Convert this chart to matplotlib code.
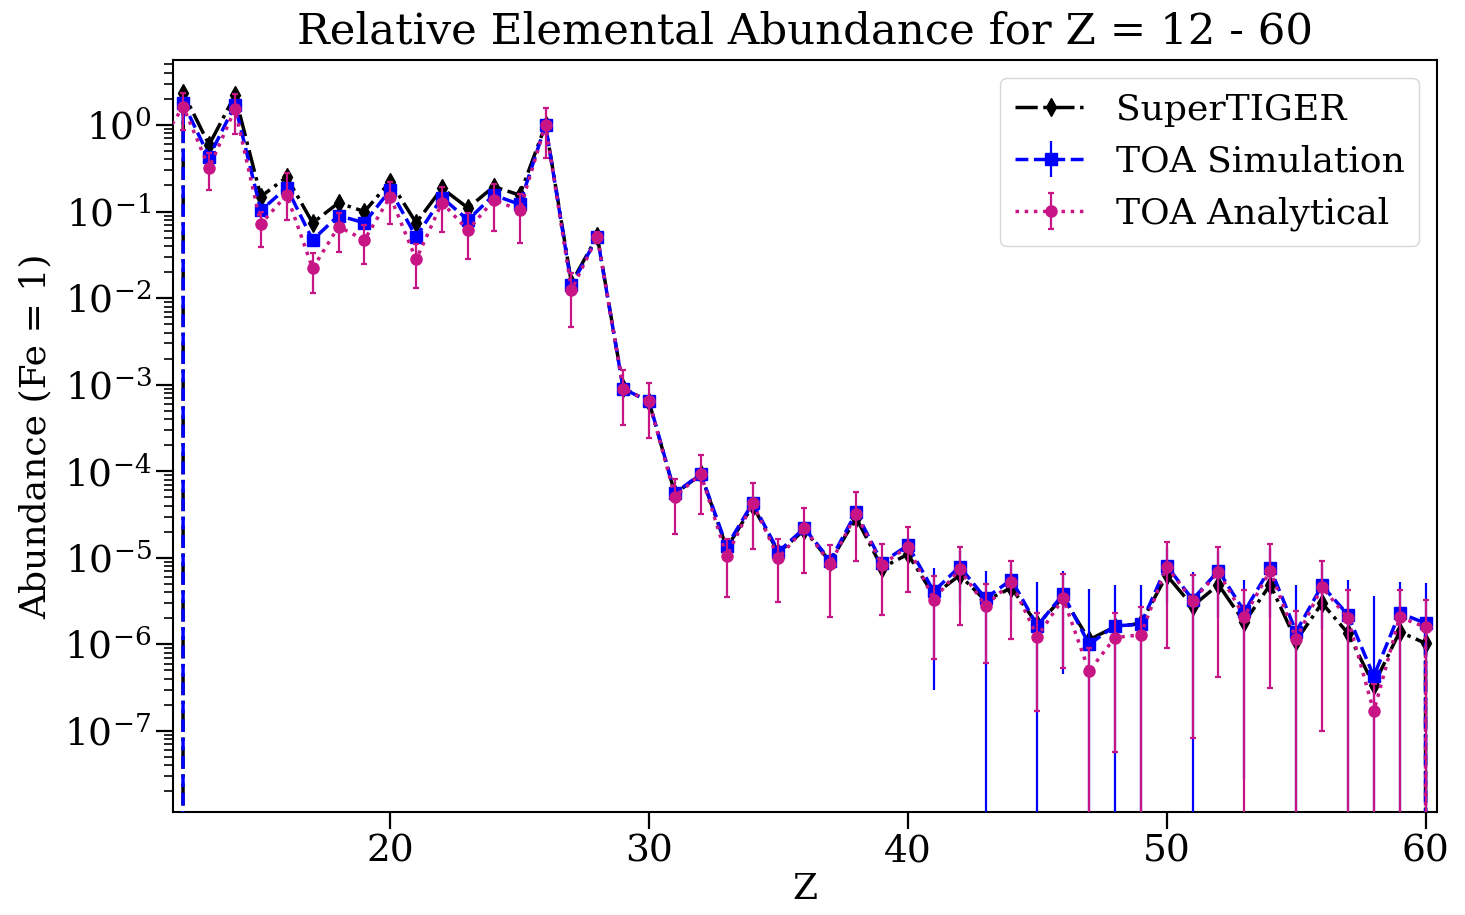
import numpy as np
import matplotlib
matplotlib.use("Agg")
import matplotlib.pyplot as plt
from matplotlib.ticker import LogLocator, NullFormatter, FixedLocator

plt.rcParams["font.family"] = ["DejaVu Serif"]
plt.rcParams["mathtext.fontset"] = "dejavuserif"

# Atomic number; the first and last entries close the curves off the plot
Z = list(range(11, 62))

supertiger = [0.0,
              2.35, 0.59, 2.2, 0.149, 0.25, 0.074, 0.126, 0.10, 0.222, 0.074,
              0.186, 0.11, 0.194, 0.155, 1.0, 0.015, 0.052, 9.2e-4, 6.3e-4, 5.5e-5,
              9.2e-5, 1.3e-5, 4.0e-5, 1.15e-5, 2.1e-5, 9.0e-6, 2.9e-5, 7.7e-6, 1.1e-5, 3.7e-6,
              6.3e-6, 3.2e-6, 4.5e-6, 1.7e-6, 3.5e-6, 1.13e-6, 1.6e-6, 1.75e-6, 6.3e-6, 2.77e-6,
              4.9e-6, 1.8e-6, 4.9e-6, 1.1e-6, 3.0e-6, 1.35e-6, 3.4e-7, 1.4e-6, 1.03e-6,
              0.0]

toa_sim = [0.0,
           1.81, 0.43, 1.70, 0.103, 0.189, 0.047, 0.090, 0.074, 0.178, 0.051,
           0.145, 0.080, 0.155, 0.121, 1.0, 0.0140, 0.051, 9.0e-4, 6.4e-4, 5.6e-5,
           9.3e-5, 1.36e-5, 4.3e-5, 1.18e-5, 2.2e-5, 9.3e-6, 3.35e-5, 8.8e-6, 1.4e-5, 4.1e-6,
           7.9e-6, 3.4e-6, 5.6e-6, 1.64e-6, 3.8e-6, 1.0e-6, 1.64e-6, 1.7e-6, 8.1e-6, 3.3e-6,
           7.1e-6, 2.4e-6, 7.6e-6, 1.4e-6, 4.8e-6, 2.2e-6, 4.3e-7, 2.3e-6, 1.76e-6,
           0.0]

nan = np.nan
# Simulation uncertainty band (lower / upper limits); nan where no bar is drawn
toa_sim_lo = [nan] * 30 + [
    3.0e-7, 3.0e-6, 0.0, 2.5e-6, 0.0, 4.6e-7, 0.0, 0.0, 0.0, 3.0e-6,
    0.0, 2.0e-6, 2.8e-8, 2.0e-6, 0.0, 1.5e-6, 0.0, 0.0, 0.0, 0.0] + [nan]
toa_sim_hi = [nan] * 30 + [
    7.6e-6, 1.2e-5, 7.1e-6, 8.5e-6, 5.3e-6, 7.1e-6, 4.4e-6, 4.9e-6, 4.9e-6, 1.3e-5,
    6.8e-6, 1.2e-5, 5.5e-6, 1.3e-5, 4.8e-6, 8.5e-6, 5.6e-6, 3.6e-6, 5.3e-6, 5.1e-6] + [nan]

toa_ana = [0.55,
           1.63, 0.32, 1.52, 0.072, 0.156, 0.022, 0.067, 0.047, 0.149, 0.028,
           0.127, 0.061, 0.136, 0.104, 1.0, 0.0124, 0.051, 9.0e-4, 6.4e-4, 5.1e-5,
           9.3e-5, 1.04e-5, 4.3e-5, 1.0e-5, 2.2e-5, 8.5e-6, 3.2e-5, 8.3e-6, 1.35e-5, 3.3e-6,
           7.4e-6, 2.8e-6, 5.2e-6, 1.23e-6, 3.4e-6, 4.9e-7, 1.2e-6, 1.29e-6, 7.9e-6, 3.2e-6,
           6.8e-6, 2.1e-6, 7.1e-6, 1.15e-6, 4.6e-6, 2.0e-6, 1.68e-7, 2.07e-6, 1.58e-6,
           0.0]
toa_ana_lo = [nan,
              0.87, 0.177, 0.79, 0.039, 0.080, 0.0115, 0.034, 0.025, 0.072, 0.0132,
              0.058, 0.028, 0.060, 0.043, 0.42, 0.0046, 0.043, 3.4e-4, 2.4e-4, 1.9e-5,
              3.2e-5, 3.5e-6, 1.26e-5, 3.1e-6, 6.6e-6, 2.1e-6, 9.3e-6, 2.2e-6, 4.0e-6, 6.8e-7,
              1.66e-6, 6.1e-7, 1.15e-6, 1.7e-7, 5.3e-7, 0.0, 5.7e-8, 0.0, 9.1e-7, 8.3e-8,
              4.2e-7, 0.0, 3.1e-7, 0.0, 1.0e-7, 0.0, 0.0, 0.0, 0.0,
              nan]
toa_ana_hi = [nan,
              2.34, 0.48, 2.3, 0.10, 0.28, 0.033, 0.095, 0.07, 0.22, 0.042,
              0.19, 0.095, 0.21, 0.16, 1.58, 0.0195, 0.058, 1.48e-3, 1.05e-3, 8.2e-5,
              1.56e-4, 1.65e-5, 7.4e-5, 1.67e-5, 3.8e-5, 1.4e-5, 5.8e-5, 1.45e-5, 2.3e-5, 6.1e-6,
              1.33e-5, 5.0e-6, 9.3e-6, 2.3e-6, 6.5e-6, 9.0e-7, 2.3e-6, 2.7e-6, 1.53e-5, 6.3e-6,
              1.32e-5, 4.3e-6, 1.44e-5, 2.46e-6, 9.3e-6, 4.2e-6, 3.5e-7, 4.3e-6, 3.3e-6,
              nan]

x_ticks = [20, 30, 40, 50, 60]
y_ticks = [1e0, 1e-1, 1e-2, 1e-3, 1e-4, 1e-5, 1e-6, 1e-7]

z = np.array(Z, dtype=float)
st = np.array(supertiger)
sim = np.array(toa_sim)
ana = np.array(toa_ana)
sim_err = [sim - np.array(toa_sim_lo), np.array(toa_sim_hi) - sim]
ana_err = [ana - np.array(toa_ana_lo), np.array(toa_ana_hi) - ana]

fig = plt.figure(figsize=(14.65, 9.15), dpi=100)
ax = fig.add_axes([0.118, 0.1126, 0.863, 0.8216])
ax.set_yscale("log")

ax.plot(z, st, color="black", linestyle="-.", marker="d", markersize=9,
        linewidth=2.5, label="SuperTIGER", zorder=2)
ax.errorbar(z, sim, yerr=sim_err, color="blue", linestyle="--", marker="s",
            markersize=8, linewidth=2.5, elinewidth=1.6, capsize=0,
            label="TOA Simulation", zorder=3)
ax.errorbar(z, ana, yerr=ana_err, color="mediumvioletred", linestyle=":",
            marker="o", markersize=8, linewidth=2.5, elinewidth=1.6, capsize=2.5,
            capthick=1.6, label="TOA Analytical", zorder=4)

ax.set_xlim(11.6, 60.45)
ax.set_ylim(1.16e-8, 5.6)
ax.set_xticks(x_ticks)
ax.yaxis.set_major_locator(FixedLocator(y_ticks))
ax.yaxis.set_minor_locator(LogLocator(base=10, subs=np.arange(2, 10), numticks=100))
ax.yaxis.set_minor_formatter(NullFormatter())

ax.tick_params(axis="both", which="major", length=12, width=1.6, labelsize=27)
ax.tick_params(axis="y", which="minor", length=6.5, width=1.2)
for sp in ax.spines.values():
    sp.set_linewidth(1.5)

ax.set_title("Relative Elemental Abundance for Z = 12 - 60", fontsize=31.3, pad=12)
ax.set_xlabel("Z", fontsize=26, labelpad=2)
ax.set_ylabel("Abundance (Fe = 1)", fontsize=26, labelpad=8)
ax.legend(loc="upper right", fontsize=26)

fig.savefig("out.png", dpi=100)
